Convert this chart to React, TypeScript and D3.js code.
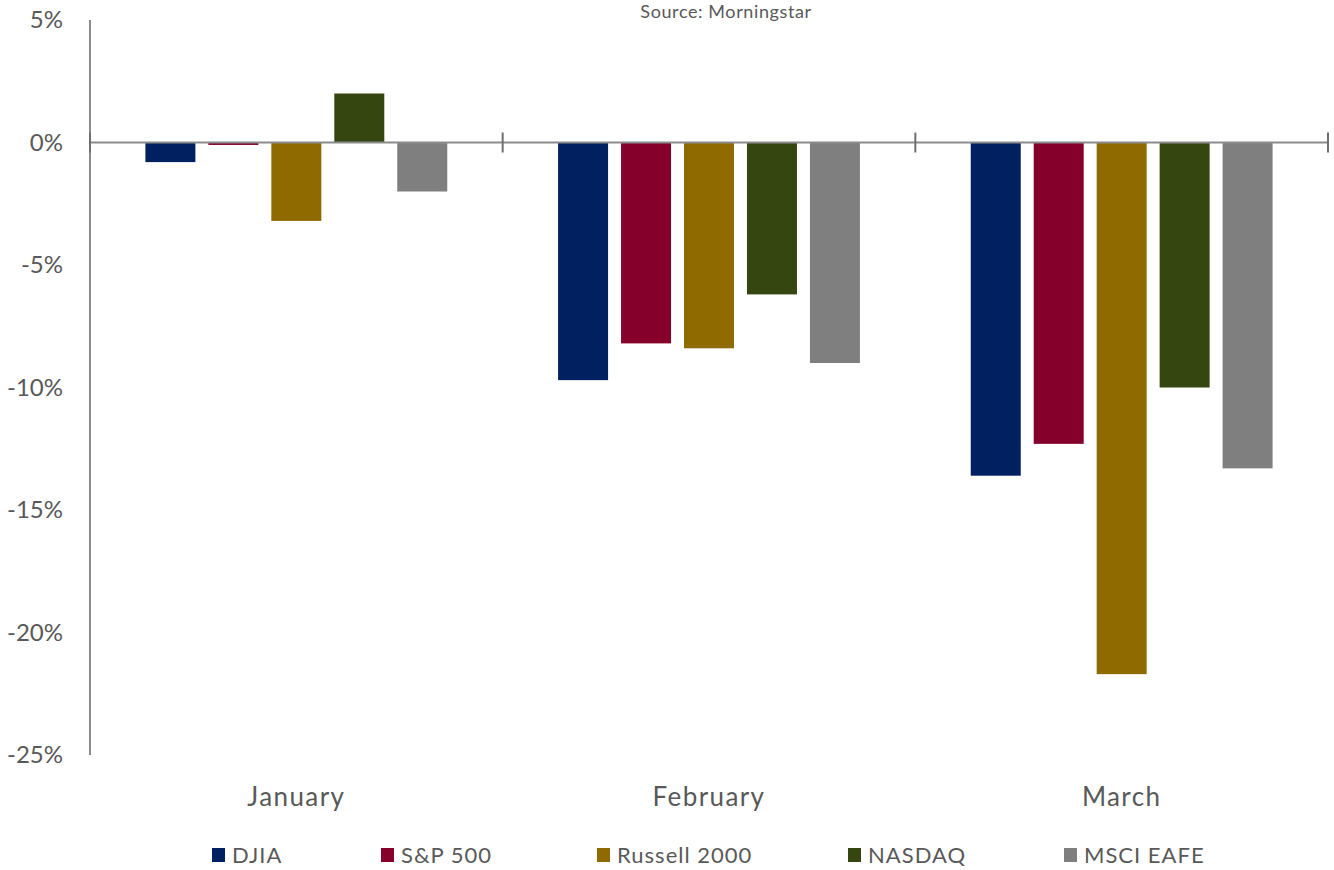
import { useEffect, useRef } from 'react'
import * as d3 from 'd3'

const months = ['January', 'February', 'March']
const seriesNames = ['DJIA', 'S&P 500', 'Russell 2000', 'NASDAQ', 'MSCI EAFE']
const seriesColors = ['#00205f', '#85002b', '#8f6a00', '#354610', '#7f7f7f']

// monthly returns in %, one array per index
const djia = [-0.8, -9.7, -13.6]
const sp500 = [-0.1, -8.2, -12.3]
const russell2000 = [-3.2, -8.4, -21.7]
const nasdaq = [2.0, -6.2, -10.0]
const msciEafe = [-2.0, -9.0, -13.3]

const yTicks = [5, 0, -5, -10, -15, -20, -25]

export default function App() {
  const svgRef = useRef<SVGSVGElement>(null)

  useEffect(() => {
    const width = 1334, height = 870
    const font = 'Lato, "Open Sans", sans-serif'
    const textColor = '#595959'
    const axisColor = '#8c8c8c'

    const svg = d3.select(svgRef.current)
    svg.selectAll('*').remove()
    svg.attr('width', width).attr('height', height).style('background', 'white')

    const values = [djia, sp500, russell2000, nasdaq, msciEafe]

    const x = d3.scaleBand().domain(months).range([90, 1328]).padding(0)
    const xInner = d3.scaleBand()
      .domain(seriesNames)
      .range([0, x.bandwidth()])
      .paddingInner(0.206)
      .paddingOuter(0.88)
    const y = d3.scaleLinear().domain([-25, 5]).range([755, 20])

    // source note
    svg.append('text')
      .text('Source: Morningstar')
      .attr('x', 726).attr('y', 18)
      .attr('text-anchor', 'middle')
      .attr('font-family', font)
      .attr('font-size', '18px')
      .attr('letter-spacing', '0.6px')
      .attr('fill', textColor)

    // bars
    values.forEach((vals, si) => {
      svg.append('g')
        .selectAll('rect')
        .data(vals)
        .enter()
        .append('rect')
        .attr('x', (d, i) => x(months[i])! + xInner(seriesNames[si])!)
        .attr('y', d => y(Math.max(0, d)))
        .attr('width', xInner.bandwidth())
        .attr('height', d => Math.abs(y(d) - y(0)))
        .attr('fill', seriesColors[si])
    })

    // y axis line
    svg.append('line')
      .attr('x1', 90).attr('x2', 90)
      .attr('y1', y(5)).attr('y2', y(-25))
      .attr('stroke', axisColor).attr('stroke-width', 2)

    // y tick labels
    svg.append('g')
      .selectAll('text')
      .data(yTicks)
      .enter()
      .append('text')
      .text(d => `${d}%`)
      .attr('x', 63)
      .attr('y', d => y(d))
      .attr('dy', '0.35em')
      .attr('text-anchor', 'end')
      .attr('font-family', font)
      .attr('font-size', '24px')
      .attr('fill', textColor)

    // zero baseline with category ticks
    svg.append('line')
      .attr('x1', 90).attr('x2', 1328)
      .attr('y1', y(0)).attr('y2', y(0))
      .attr('stroke', axisColor).attr('stroke-width', 2)

    const boundaries = months.map(m => x(m)!).concat([x.range()[1]])
    svg.append('g')
      .selectAll('line')
      .data(boundaries)
      .enter()
      .append('line')
      .attr('x1', d => d).attr('x2', d => d)
      .attr('y1', y(0) - 10).attr('y2', y(0) + 10)
      .attr('stroke', '#6e6e6e').attr('stroke-width', 2)

    // category labels
    svg.append('g')
      .selectAll('text')
      .data(months)
      .enter()
      .append('text')
      .text(d => d)
      .attr('x', d => x(d)! + x.bandwidth() / 2)
      .attr('y', 806)
      .attr('text-anchor', 'middle')
      .attr('font-family', font)
      .attr('font-size', '26px')
      .attr('letter-spacing', '1.4px')
      .attr('fill', textColor)

    // legend
    const legendX = [212, 381, 597, 848, 1064]
    const legend = svg.append('g')
      .selectAll('g')
      .data(seriesNames)
      .enter()
      .append('g')
      .attr('transform', (d, i) => `translate(${legendX[i]}, 848)`)

    legend.append('rect')
      .attr('width', 13).attr('height', 14)
      .attr('fill', (d, i) => seriesColors[i])

    legend.append('text')
      .text(d => d)
      .attr('x', 20)
      .attr('y', 15)
      .attr('font-family', font)
      .attr('font-size', '22px')
      .attr('letter-spacing', '1px')
      .attr('fill', textColor)
  }, [])

  return <svg ref={svgRef} style={{ display: 'block', position: 'absolute', left: 0, top: 0 }} />
}
